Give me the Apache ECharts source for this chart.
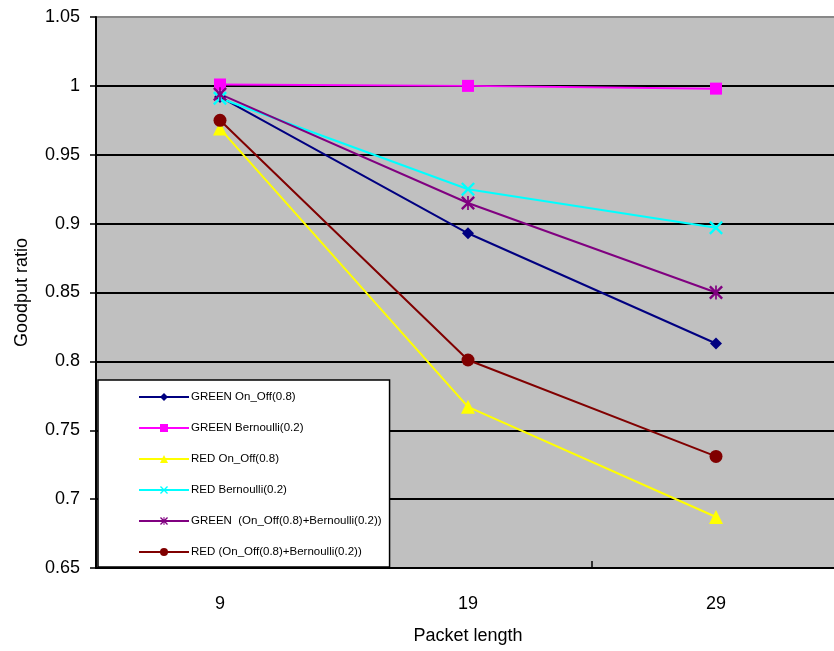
<!DOCTYPE html>
<html>
<head>
<meta charset="utf-8">
<title>Goodput ratio vs packet length</title>
<script src="https://cdn.jsdelivr.net/npm/echarts@6/dist/echarts.min.js"></script>
<style>
  html, body { margin: 0; padding: 0; background: #fff; }
  #chart { width: 834px; height: 651px; }
</style>
</head>
<body>
<div id="chart"></div>
<script>
// Packet lengths on the x axis
const packetLengths = ['9', '19', '29'];

// Goodput ratio per scenario
const greenOnOff = [0.992, 0.893, 0.813];
const greenBernoulli = [1.001, 1.0, 0.998];
const redOnOff = [0.969, 0.767, 0.687];
const redBernoulli = [0.991, 0.925, 0.897];
const greenCombined = [0.994, 0.915, 0.850];
const redCombined = [0.975, 0.801, 0.731];

const seriesNames = [
  'GREEN On_Off(0.8)',
  'GREEN Bernoulli(0.2)',
  'RED On_Off(0.8)',
  'RED Bernoulli(0.2)',
  'GREEN  (On_Off(0.8)+Bernoulli(0.2))',
  'RED (On_Off(0.8)+Bernoulli(0.2))'
];

// Marker shapes drawn as filled outlines
const crossPath = 'path://M0,1.2L1.2,0L10,8.8L8.8,10Z M8.8,0L10,1.2L1.2,10L0,8.8Z';
const starPath = 'path://M0,1.2L1.2,0L10,8.8L8.8,10Z M8.8,0L10,1.2L1.2,10L0,8.8Z M4.4,0L5.6,0L5.6,10L4.4,10Z';

const FONT = '"Liberation Sans", Arial, sans-serif';

function makeSeries(name, data, color, symbol, size) {
  return {
    name: name,
    type: 'line',
    data: data,
    symbol: symbol,
    symbolSize: size,
    showAllSymbol: true,
    lineStyle: { color: color, width: 2 },
    itemStyle: { color: color, borderWidth: 0 },
    emphasis: { disabled: true },
    animation: false
  };
}

const chart = echarts.init(document.getElementById('chart'), null, { renderer: 'canvas' });

chart.setOption({
  backgroundColor: '#ffffff',
  animation: false,
  textStyle: { fontFamily: FONT, color: '#000' },
  // plot area runs slightly past the right edge of the canvas
  grid: {
    left: 96,
    width: 744,
    top: 17,
    bottom: 83,
    outerBoundsMode: 'none',
    containLabel: false,
    show: true,
    backgroundColor: '#c0c0c0',
    borderWidth: 0
  },
  legend: {
    orient: 'vertical',
    left: 98,
    top: 380,
    backgroundColor: '#ffffff',
    borderColor: '#000',
    borderWidth: 1.5,
    padding: [11, 8, 9, 40],
    itemWidth: 50,
    itemHeight: 10,
    itemGap: 19,
    textStyle: { fontFamily: FONT, fontSize: 11.5, color: '#000', padding: [0, 0, 0, -3] },
    data: seriesNames
  },
  xAxis: {
    type: 'category',
    data: packetLengths,
    boundaryGap: true,
    name: 'Packet length',
    nameLocation: 'middle',
    nameGap: 59,
    nameTextStyle: { fontFamily: FONT, fontSize: 18, color: '#000' },
    axisLine: { show: true, lineStyle: { color: '#000', width: 2 } },
    axisTick: { show: true, inside: true, length: 7, lineStyle: { color: '#000', width: 1.5 } },
    axisLabel: { fontFamily: FONT, fontSize: 18, color: '#000', margin: 27 },
    splitLine: { show: false }
  },
  yAxis: {
    type: 'value',
    min: 0.65,
    max: 1.05,
    interval: 0.05,
    name: 'Goodput ratio',
    nameLocation: 'middle',
    nameGap: 65,
    nameRotate: 90,
    nameTextStyle: { fontFamily: FONT, fontSize: 18, color: '#000' },
    axisLine: { show: true, lineStyle: { color: '#000', width: 2 } },
    axisTick: { show: true, length: 6, lineStyle: { color: '#000', width: 1.5 } },
    axisLabel: { fontFamily: FONT, fontSize: 18, color: '#000', margin: 16 },
    splitLine: {
      show: true,
      lineStyle: {
        color: ['#000', '#000', '#000', '#000', '#000', '#000', '#000', '#000', '#888'],
        width: 1.8
      }
    }
  },
  series: [
    makeSeries(seriesNames[0], greenOnOff, '#000080', 'diamond', 12),
    makeSeries(seriesNames[1], greenBernoulli, '#ff00ff', 'rect', 12),
    makeSeries(seriesNames[2], redOnOff, '#ffff00', 'triangle', 14),
    makeSeries(seriesNames[3], redBernoulli, '#00ffff', crossPath, 14),
    makeSeries(seriesNames[4], greenCombined, '#800080', starPath, 14),
    makeSeries(seriesNames[5], redCombined, '#800000', 'circle', 13)
  ]
});
</script>
</body>
</html>
